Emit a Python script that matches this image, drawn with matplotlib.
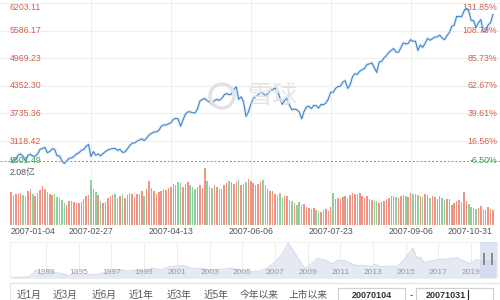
import matplotlib
matplotlib.use('Agg')
import matplotlib.pyplot as plt
from matplotlib.patches import Rectangle, Ellipse

plt.rcParams['font.family'] = ['Liberation Sans', 'Noto Sans CJK SC', 'DejaVu Sans']

# ---- data ----
base = 2675.48   # prev close, 0% line

closes = [2715.72, 2641.33, 2707.20, 2807.80, 2825.58, 2770.11, 2668.11, 2794.70, 2821.02, 2778.78,
          2778.81, 2832.21, 2933.19, 2949.14, 2975.13, 2857.37, 2882.56, 2945.26, 2930.43, 2786.34,
          2785.45, 2673.11, 2612.54, 2672.42, 2730.01, 2737.89, 2771.79, 2828.45, 2850.63, 2907.18,
          2924.82, 2998.47, 3040.60, 2771.79, 2881.07, 2797.23, 2831.53, 2785.75, 2838.83, 2880.54,
          2917.25, 2937.30, 2951.33, 2948.99, 2906.34, 2930.79, 2864.27, 2871.77, 2936.70, 3014.44,
          3071.11, 3074.29, 3113.95, 3138.84, 3165.99, 3128.36, 3183.98, 3252.59, 3291.30, 3319.14,
          3323.59, 3354.04, 3444.38, 3477.19, 3480.15, 3503.72, 3524.03, 3603.57, 3623.65, 3615.50,
          3449.02, 3584.20, 3721.90, 3772.60, 3770.88, 3753.65, 3743.96, 3841.27, 4013.09, 4049.71,
          4072.22, 4021.68, 3996.76, 3938.93, 4030.99, 4050.31, 4030.26, 4072.29, 4150.10, 4185.39,
          4156.18, 4169.26, 4272.10, 4334.92, 4053.09, 4109.65, 4000.74, 3670.40, 3767.10, 3941.13,
          4072.00, 4112.00, 4150.00, 4205.00, 4195.00, 4129.00, 4179.00, 4252.00, 4269.00, 4309.00,
          4248.00, 4091.00, 3941.00, 4030.00, 4080.00, 3914.00, 3820.00, 3836.00, 3820.00, 3772.00,
          3615.87, 3781.35, 3883.00, 3897.00, 3847.00, 3916.00, 3914.00, 3856.00, 3940.00, 3930.00,
          3972.00, 4058.00, 4213.00, 4210.00, 4300.00, 4339.00, 4345.00, 4440.00, 4471.00, 4300.00,
          4376.00, 4560.00, 4628.00, 4612.00, 4685.00, 4716.00, 4749.00, 4836.00, 4848.00, 4870.00,
          4765.00, 4656.00, 4888.00, 4903.00, 4980.00, 5032.00, 5107.00, 5150.00, 5194.00, 5111.00,
          5111.00, 5218.00, 5321.00, 5294.00, 5310.00, 5393.00, 5355.00, 5356.00, 5150.00, 5272.00,
          5218.00, 5312.00, 5421.00, 5379.00, 5412.00, 5450.00, 5454.00, 5497.00, 5425.00, 5393.00,
          5481.00, 5552.00, 5692.00, 5715.00, 5913.00, 5913.00, 5903.00, 6030.00, 6092.00, 6036.00,
          5825.00, 5818.00, 5667.00, 5773.00, 5843.00, 5562.00, 5589.00, 5721.00, 5771.00, 5954.00]

# volume, 亿
vols = [1.15, 1.05, 1.08, 1.10, 1.12, 1.05, 1.02, 1.18, 1.25, 1.10,
        1.00, 1.12, 1.22, 1.38, 1.28, 1.15, 1.10, 1.05, 1.08, 0.98,
        0.95, 0.88, 0.78, 0.70, 0.82, 0.85, 0.80, 0.78, 0.75, 0.80,
        0.90, 1.00, 1.05, 1.58, 1.25, 1.15, 1.05, 0.85, 0.75, 0.80,
        0.95, 1.00, 1.05, 1.10, 0.95, 1.02, 1.08, 0.95, 1.05, 1.12,
        1.10, 0.98, 1.08, 1.10, 1.20, 1.02, 1.25, 1.55, 1.30, 1.18,
        1.10, 1.15, 1.20, 1.25, 1.22, 1.30, 1.35, 1.45, 1.40, 1.52,
        1.48, 1.35, 1.45, 1.50, 1.40, 1.32, 1.28, 1.35, 1.42, 1.30,
        2.00, 1.55, 1.35, 1.30, 1.40, 1.32, 1.28, 1.25, 1.40, 1.48,
        1.55, 1.50, 1.45, 1.52, 1.58, 1.40, 1.45, 1.50, 1.62, 1.55,
        1.48, 1.42, 1.45, 1.50, 1.60, 1.40, 1.25, 1.18, 1.20, 1.10,
        1.05, 1.12, 0.95, 1.00, 1.02, 0.88, 0.85, 0.75, 0.70, 0.80,
        0.68, 0.72, 0.62, 0.58, 0.55, 0.60, 0.50, 0.48, 0.45, 0.50,
        0.55, 0.48, 0.62, 1.12, 0.90, 0.95, 0.92, 0.98, 1.02, 0.95,
        1.05, 1.12, 1.08, 1.10, 1.12, 1.00, 0.95, 1.02, 0.90, 0.88,
        0.82, 0.85, 0.78, 0.80, 0.85, 0.90, 0.95, 1.00, 1.02, 0.98,
        0.95, 1.00, 1.05, 1.00, 0.98, 1.12, 1.08, 1.10, 1.05, 1.02,
        0.98, 1.10, 1.05, 0.95, 1.00, 0.98, 0.92, 1.02, 0.95, 0.88,
        0.90, 0.92, 0.70, 0.78, 0.85, 0.88, 0.80, 1.15, 0.82, 0.72,
        0.62, 0.58, 0.55, 0.60, 0.65, 0.55, 0.52, 0.62, 0.55, 0.50]
vol_top = 2.08
vol_lab = '2.08亿'

price_ticks = [2501.49, 3118.42, 3735.36, 4352.30, 4969.23, 5586.17, 6203.11]
date_idx = [0, 33, 66, 99, 132, 165, 199]
date_lab = ['2007-01-04', '2007-02-27', '2007-04-13', '2007-06-06',
            '2007-07-23', '2007-09-06', '2007-10-31']

# navigator (whole history)
nav_x = [1990.9, 1991.5, 1992.0, 1992.4, 1992.9, 1993.1, 1993.5, 1994.0, 1994.5, 1994.7,
         1995.0, 1995.5, 1996.0, 1996.9, 1997.4, 1998.0, 1998.5, 1999.0, 1999.5, 2000.0,
         2000.6, 2001.4, 2001.9, 2002.5, 2003.0, 2003.5, 2004.0, 2004.3, 2005.0, 2005.5,
         2006.0, 2006.5, 2007.0, 2007.4, 2007.8, 2008.0, 2008.4, 2008.8, 2009.0, 2009.6,
         2010.0, 2010.5, 2010.85, 2011.3, 2011.9, 2012.5, 2012.9, 2013.1, 2013.5, 2014.0,
         2014.5, 2014.9, 2015.45, 2015.65, 2015.9, 2016.1, 2016.9, 2017.9, 2018.1, 2018.9,
         2019.3, 2019.8, 2020.5]
nav_y = [130, 140, 290, 1400, 400, 1550, 950, 800, 330, 1000,
         650, 700, 550, 1200, 1500, 1200, 1400, 1150, 1700, 1400,
         2000, 2200, 1650, 1700, 1350, 1500, 1600, 1750, 1250, 1050,
         1200, 1700, 2700, 4000, 6100, 5300, 3500, 1800, 1900, 3400,
         3200, 2500, 3100, 3000, 2200, 2200, 2000, 2400, 1950, 2050,
         2050, 3200, 5200, 3600, 3600, 2700, 3200, 3400, 3550, 2500,
         3200, 2950, 2900]
nav_years = [1993, 1995, 1997, 1999, 2001, 2003, 2005, 2007, 2009, 2011, 2013, 2015, 2017, 2019]

buttons = ['近1月', '近3月', '近6月', '近1年', '近3年', '近5年', '今年以来', '上市以来']
date_from = '20070104'
date_to = '20071031'

# ---- layout helpers (pixel coords, origin top-left) ----
W, H = 500, 300
def box(x0, y0, x1, y1):
    return [x0 / W, 1 - y1 / H, (x1 - x0) / W, (y1 - y0) / H]

red = '#d0604f'
green = '#3f9f55'
xl = (-4.55, 201.9)

fig = plt.figure(figsize=(5, 3), dpi=100)

# price panel
ax = fig.add_axes(box(0, 0, 500, 168.5))
ax.set_xlim(xl)
ax.set_ylim(2501.49, 6281.6)
ax.axis('off')
for p in price_ticks[1:]:
    ax.axhline(p, color='#efefef', lw=0.8, zorder=0)
for i in date_idx[1:-1]:
    ax.axvline(i, color='#efefef', lw=0.8, zorder=0)
ax.axhline(base, color='#8a8a8a', lw=0.7, ls=(0, (2, 2)), zorder=1)
x = list(range(len(closes)))
ax.plot(x, closes, color='#dcedf9', lw=2.2, zorder=2)
ax.plot(x, closes, color='#3f80c6', lw=0.75, zorder=3)

tr = ax.get_yaxis_transform()
for k, p in enumerate(price_ticks):
    pct = (p / base - 1) * 100
    c = red if pct >= 0 else green
    dy = 0
    if k == 0:
        dy = 5.6      # keep bottom label inside
    if k == len(price_ticks) - 1:
        dy = -2.6     # keep top label inside
    ax.annotate('%.2f' % p, xy=(0.02, p), xycoords=tr, xytext=(0, dy), textcoords='offset points',
                ha='left', va='center', fontsize=6.3, color=c, zorder=4)
    ax.annotate('%.2f%%' % pct, xy=(0.994, p), xycoords=tr, xytext=(0, dy), textcoords='offset points',
                ha='right', va='center', fontsize=6.3, color=c, zorder=4)

# watermark
fig.patches.append(Ellipse((222 / W, 1 - 96 / H), 24 / W, 24 / H, transform=fig.transFigure,
                           fill=False, ec='#e2e2e2', lw=2.5, zorder=0))
fig.text(272 / W, 1 - 96 / H, '雪球', fontsize=18, color='#e4e4e4', ha='center', va='center',
         family=['Noto Sans CJK SC'], zorder=0)

# volume panel
vax = fig.add_axes(box(0, 166, 500, 224.5))
vax.set_xlim(xl)
vax.set_ylim(0, vol_top)
vax.axis('off')
cols = []
prev = base
for c in closes:
    cols.append('#ee9483' if c >= prev else '#90d09e')
    prev = c
for i in date_idx[1:-1]:
    vax.axvline(i, color='#efefef', lw=0.8, zorder=0)
vax.bar(x, vols, width=0.62, color=cols, zorder=2)
vax.text(10 / W, 1 - 6 / 58.5, vol_lab, transform=vax.transAxes, ha='left', va='center',
         fontsize=6.3, color='#555555')

xt = vax.get_xaxis_transform()
for k, (i, lab) in enumerate(zip(date_idx, date_lab)):
    ha = 'center'
    if k == 0:
        ha = 'left'
    if k == len(date_idx) - 1:
        ha = 'right'
    vax.text(i, -0.128, lab, transform=xt, ha=ha, va='center', fontsize=6.3, color='#555555')

# navigator
nax = fig.add_axes(box(10, 242, 497, 278))
nax.set_xlim(1990.8, 2020.58)
nax.set_ylim(0, 6250)
nax.axis('off')
for yy in nav_years:
    nax.axvline(yy, ymin=0.28, color='#eeeeee', lw=0.8, zorder=0)
nax.fill_between(nav_x, nav_y, color='#e4e9f3', lw=0, zorder=1)
nax.plot(nav_x, nav_y, color='#cdd6e6', lw=0.6, zorder=2)
for yy in nav_years:
    nax.text(yy, 0.14, str(yy), transform=nax.get_xaxis_transform(), ha='center', va='center',
             fontsize=6, color='#9a9a9a', zorder=3)
fig.patches.append(Rectangle((10 / W, 1 - 278 / H), 487 / W, 36 / H, transform=fig.transFigure,
                             fill=False, ec='#ececec', lw=0.6))
# selected range + handles
fig.patches.append(Rectangle((480 / W, 1 - 278 / H), 17 / W, 36 / H, transform=fig.transFigure,
                             fc='#c9d5ea', alpha=0.6, lw=0))
for hx in [482.5, 490.5]:
    fig.patches.append(Rectangle((hx / W, 1 - 265 / H), 2.5 / W, 12 / H, transform=fig.transFigure,
                                 fc='#8c8c8c', lw=0))

# range buttons
fig.patches.append(Rectangle((10 / W, 0), 490 / W, 17 / H, transform=fig.transFigure,
                             fill=False, ec='#e3e3e3', lw=0.8))
btn_x = [29, 65, 104, 141, 179, 216, 259, 308]
for bx, b in zip(btn_x, buttons):
    fig.text(bx / W, 1 - 295 / H, b, ha='center', va='center', fontsize=7, color='#555555')
fig.patches.append(Rectangle((338 / W, -0.01), 67 / W, 15.5 / H, transform=fig.transFigure,
                             fill=False, ec='#cfcfcf', lw=0.8))
fig.patches.append(Rectangle((416 / W, -0.01), 77 / W, 15.5 / H, transform=fig.transFigure,
                             fill=False, ec='#cfcfcf', lw=0.8))
fig.text(372 / W, 1 - 295 / H, date_from, ha='center', va='center', fontsize=6.5, color='#333333',
         weight='bold')
fig.text(411 / W, 1 - 295 / H, '-', ha='center', va='center', fontsize=7, color='#333333')
fig.text(446 / W, 1 - 295 / H, date_to, ha='center', va='center', fontsize=6.5, color='#333333',
         weight='bold')
# text cursor in the second box
fig.lines.append(plt.Line2D([468 / W, 468 / W], [1 - 300 / H, 1 - 290 / H], transform=fig.transFigure,
                            color='#222222', lw=0.8))

fig.savefig('out.png', dpi=100)
